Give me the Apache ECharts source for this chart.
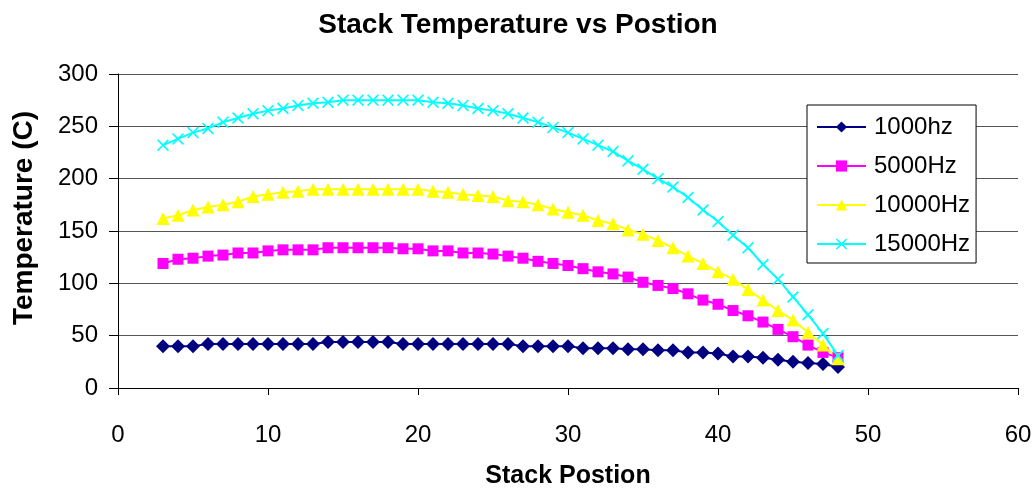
<!DOCTYPE html>
<html>
<head>
<meta charset="utf-8">
<script src="https://cdn.jsdelivr.net/npm/echarts@6/dist/echarts.min.js"></script>
<style>
  html, body { margin: 0; padding: 0; background: #fff; }
  #chart { width: 1036px; height: 494px; }
</style>
</head>
<body>
<div id="chart"></div>
<script>
// Stack positions 3..48
const positions = [3,4,5,6,7,8,9,10,11,12,13,14,15,16,17,18,19,20,21,22,23,24,25,26,27,28,29,30,31,32,33,34,35,36,37,38,39,40,41,42,43,44,45,46,47,48];

const temp1000 = [40,40,40,42,42,42,42,42,42,42,42,44,44,44,44,44,42,42,42,42,42,42,42,42,40,40,40,40,38,38,38,37,37,36,36,34,34,33,30,30,29,27,25,24,23,20];
const temp5000 = [119,123,124,126,127,129,129,131,132,132,132,134,134,134,134,134,133,133,131,131,129,129,128,126,124,121,119,117,114,111,109,106,101,98,95,90,84,80,74,69,63,56,49,41,34,29];
const temp10000 = [162,165,170,173,175,178,183,185,187,188,190,190,190,190,190,190,190,190,188,187,185,184,183,179,178,175,171,168,165,160,157,151,147,141,134,126,119,111,104,94,84,74,65,53,41,28];
const temp15000 = [232,238,244,248,254,258,262,265,267,270,272,273,275,275,275,275,275,275,273,272,270,267,265,262,258,254,249,244,238,232,226,217,209,200,192,182,170,159,146,134,118,104,87,70,52,31];

const seriesNames = ['1000hz', '5000Hz', '10000Hz', '15000Hz'];
const xTicks = [0, 10, 20, 30, 40, 50, 60];
const yTicks = [0, 50, 100, 150, 200, 250, 300];

const FONT = '"Liberation Sans", Arial, sans-serif';
// filled "x" marker outline
const crossPath = 'path://M0,1L1,0L5,4L9,0L10,1L6,5L10,9L9,10L5,6L1,10L0,9L4,5Z';

function pairs(ys) {
  return positions.map((x, i) => [x, ys[i]]);
}

function lineSeries(name, ys, color, symbol, size) {
  return {
    name: name,
    type: 'line',
    data: pairs(ys),
    symbol: symbol,
    symbolSize: size,
    showAllSymbol: true,
    smooth: false,
    color: color,
    lineStyle: { color: color, width: 2 },
    itemStyle: { color: color },
    emphasis: { disabled: true },
    animation: false,
    z: 3
  };
}

const chart = echarts.init(document.getElementById('chart'), null, { renderer: 'canvas' });

chart.setOption({
  backgroundColor: '#ffffff',
  animation: false,
  title: {
    text: 'Stack Temperature vs Postion',
    left: 'center',
    top: 6,
    textStyle: { fontFamily: FONT, fontWeight: 'bold', fontSize: 28, color: '#000' }
  },
  grid: { left: 118, top: 74, width: 900, height: 320, containLabel: false },
  legend: {
    orient: 'vertical',
    left: 807,
    top: 105,
    padding: [10, 6, 7, 9],
    itemGap: 15,
    itemWidth: 49,
    itemHeight: 14,
    backgroundColor: '#ffffff',
    borderColor: '#000000',
    borderWidth: 1,
    borderRadius: 0,
    data: seriesNames,
    textStyle: { fontFamily: FONT, fontSize: 24, color: '#000', lineHeight: 24, padding: [0, 0, 0, 3] }
  },
  xAxis: {
    type: 'value',
    min: xTicks[0],
    max: xTicks[xTicks.length - 1],
    interval: 10,
    name: 'Stack Postion',
    nameLocation: 'middle',
    nameGap: 76,
    nameTextStyle: { fontFamily: FONT, fontWeight: 'bold', fontSize: 25, color: '#000' },
    axisLine: { show: true, lineStyle: { color: '#000', width: 1 } },
    axisTick: { show: true, inside: false, length: 7, lineStyle: { color: '#000' } },
    axisLabel: { fontFamily: FONT, fontSize: 24, color: '#000', margin: 35 },
    splitLine: { show: false }
  },
  yAxis: {
    type: 'value',
    min: yTicks[0],
    max: yTicks[yTicks.length - 1],
    interval: 50,
    name: 'Temperature (C)',
    nameLocation: 'middle',
    nameGap: 80,
    nameTextStyle: { fontFamily: FONT, fontWeight: 'bold', fontSize: 28, color: '#000', padding: [0, 0, 0, 26] },
    axisLine: { show: true, lineStyle: { color: '#000', width: 1 } },
    axisTick: { show: true, inside: false, length: 9, lineStyle: { color: '#000' } },
    axisLabel: { fontFamily: FONT, fontSize: 24, color: '#000', margin: 20 },
    splitLine: { show: true, lineStyle: { color: '#555555', width: 1 } }
  },
  series: [
    lineSeries(seriesNames[0], temp1000, '#000080', 'diamond', 14),
    lineSeries(seriesNames[1], temp5000, '#FF00FF', 'rect', 11),
    lineSeries(seriesNames[2], temp10000, '#FFFF00', 'triangle', 13),
    lineSeries(seriesNames[3], temp15000, '#00FFFF', crossPath, 12)
  ]
});
</script>
</body>
</html>
